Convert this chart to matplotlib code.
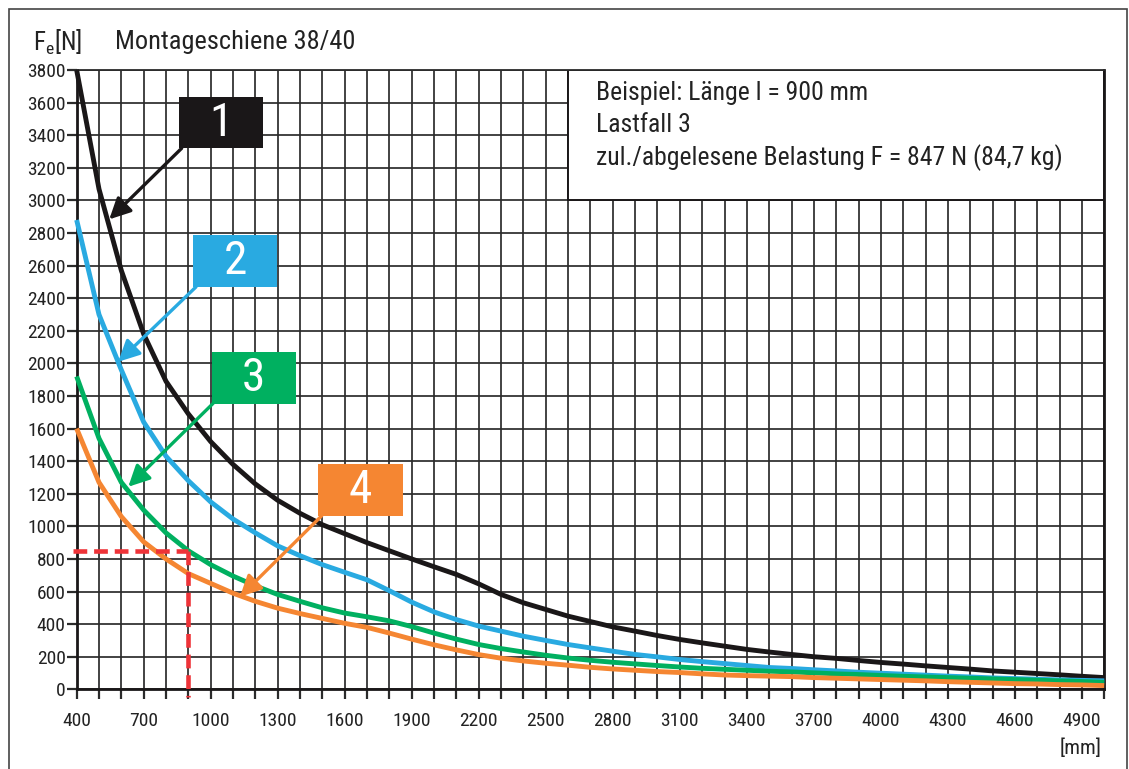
import matplotlib
matplotlib.use("Agg")
import matplotlib.pyplot as plt
from matplotlib.patches import Rectangle

plt.rcParams["font.family"] = ["Roboto Condensed", "DejaVu Sans"]

# length in mm
length = [400, 500, 600, 700, 800, 900, 1000, 1100, 1200, 1300, 1400, 1500,
          1600, 1700, 1800, 1900, 2000, 2100, 2200, 2300, 2400, 2500, 2600,
          2700, 2800, 2900, 3000, 3100, 3200, 3300, 3400, 3500, 3600, 3700,
          3800, 3900, 4000, 4100, 4200, 4300, 4400, 4500, 4600, 4700, 4800,
          4900, 5000]

# load in N, one list per load case
fe_1 = [3800, 3070, 2570, 2180, 1890, 1690, 1520, 1380, 1260, 1160, 1080, 1010,
        955, 900, 850, 800, 752, 705, 647, 582, 531, 490, 449,
        416, 383, 357, 330, 306, 285, 265, 245, 229, 214, 200,
        190, 177, 165, 155, 144, 134, 124, 113, 105, 97, 89,
        80, 72]
fe_2 = [2880, 2300, 1960, 1640, 1430, 1280, 1150, 1045, 960, 880, 820, 765,
        718, 672, 605, 535, 475, 428, 388, 357, 326, 300, 275,
        254, 234, 214, 199, 183, 170, 158, 146, 134, 128, 120,
        113, 105, 99, 93, 87, 81, 76, 70, 66, 62, 58,
        55, 52]
fe_3 = [1920, 1540, 1270, 1100, 960, 850, 765, 695, 635, 582, 540, 500,
        468, 445, 420, 385, 345, 308, 275, 250, 229, 209, 192,
        178, 166, 156, 146, 137, 129, 123, 117, 111, 107, 101,
        95, 91, 85, 80, 76, 72, 68, 64, 60, 56, 52,
        48, 43]
fe_4 = [1600, 1270, 1060, 905, 800, 710, 650, 590, 540, 498, 465, 435,
        405, 380, 345, 308, 273, 242, 213, 191, 174, 160, 148,
        135, 125, 117, 109, 103, 95, 88, 84, 81, 78, 72,
        68, 64, 60, 56, 52, 47, 43, 39, 35, 33, 29,
        27, 23]

case_names = ["1", "2", "3", "4"]
case_cols = ["#1a1718", "#29aae1", "#00b060", "#f58632"]

xlabels = [400, 700, 1000, 1300, 1600, 1900, 2200, 2500, 2800, 3100, 3400,
           3700, 4000, 4300, 4600, 4900]
ylabels = list(range(0, 3801, 200))

example_l = 900
example_f = 847

info_lines = ["Beispiel: Länge l = 900 mm", "Lastfall 3",
              "zul./abgelesene Belastung F = 847 N (84,7 kg)"]

#_____________________________________________________________________________
def main():

    fig = plt.figure(figsize=(11.29, 7.69), dpi=100)
    ax = fig.add_axes([0.0679, 0.1036, 0.9102, 0.8053])

    gcol = "#2b2b2b"
    tcol = "#222222"

    ax.set_xlim(400, 5000)
    ax.set_ylim(0, 3800)

    ax.set_xticks(range(400, 5001, 100))
    ax.set_xticklabels([str(v) if v in xlabels else "" for v in range(400, 5001, 100)])
    ax.set_yticks(ylabels)
    ax.set_yticklabels([str(v) for v in ylabels])
    ax.tick_params(axis="both", direction="out", length=7, width=1.6,
                   colors=gcol, labelsize=14, labelcolor=tcol)
    ax.tick_params(axis="x", pad=9)
    ax.tick_params(axis="y", pad=1)

    ax.grid(True, color=gcol, linewidth=1.25)
    ax.set_axisbelow(True)
    for s in ax.spines.values():
        s.set_color("#1a1718")
        s.set_linewidth(2.0)
    ax.spines["top"].set_linewidth(1.3)
    ax.spines["top"].set_color(gcol)

    #info box in upper right
    ax.add_patch(Rectangle((2600, 3000), 2400, 800, facecolor="white",
                           edgecolor="#1a1718", lw=1.4, zorder=2))
    for i, txt in enumerate(info_lines):
        ax.text(2725, 3658 - i*197, txt, fontsize=18.5, ha="left", va="center",
                color=tcol, zorder=3)

    #curves
    series = [fe_1, fe_2, fe_3, fe_4]
    for i in range(4):
        ax.plot(length, series[i], "-", color=case_cols[i], lw=3.5, zorder=4,
                solid_capstyle="butt", clip_on=False)

    #example reading
    rcol = "#ee3338"
    ax.plot([382, example_l], [example_f, example_f], "--", color=rcol, lw=3.3,
            dashes=(3.0, 1.5), zorder=5, clip_on=False)
    ax.plot([example_l, example_l], [example_f, -45], "--", color=rcol, lw=3.3,
            dashes=(3.0, 1.5), zorder=5, clip_on=False)

    #number boxes with arrows
    boxes = [(858, 3321, 376, 313), (922, 2469, 375, 319),
             (1004, 1751, 377, 319), (1480, 1063, 381, 319)]
    arr_from = [(870, 3320), (934, 2469), (1011, 1755), (1497, 1065)]
    arr_to = [(546, 2884), (586, 2010), (631, 1243), (1131, 568)]
    for i in range(4):
        bx, by, bw, bh = boxes[i]
        ax.annotate("", xy=arr_to[i], xytext=arr_from[i], zorder=6,
                    arrowprops=dict(arrowstyle="-|>", color=case_cols[i], lw=2.4,
                                    mutation_scale=32, shrinkA=0, shrinkB=0))
        ax.add_patch(Rectangle((bx, by), bw, bh, facecolor=case_cols[i],
                               edgecolor="none", zorder=7))
        ax.text(bx + bw/2, by + bh/2, case_names[i], color="white", fontsize=34,
                ha="center", va="center", zorder=8)

    #labels
    fig.text(33/1129, 1 - 42/769, r"F$_\mathregular{e}$[N]", fontsize=18,
             ha="left", va="center", color=tcol)
    fig.text(115/1129, 1 - 42/769, "Montageschiene 38/40", fontsize=19,
             ha="left", va="center", color=tcol)
    fig.text(1102/1129, 1 - 748/769, "[mm]", fontsize=15, ha="right",
             va="center", color=tcol)

    #outer frame
    fig.add_artist(Rectangle((9/1129, -0.05), (1127 - 9)/1129, 1.05 - 9/769,
                             transform=fig.transFigure, facecolor="none",
                             edgecolor="#444444", lw=1.2))

    fig.savefig("out.png", dpi=100)
    plt.close()

#main

#_____________________________________________________________________________
if __name__ == "__main__":

    main()
